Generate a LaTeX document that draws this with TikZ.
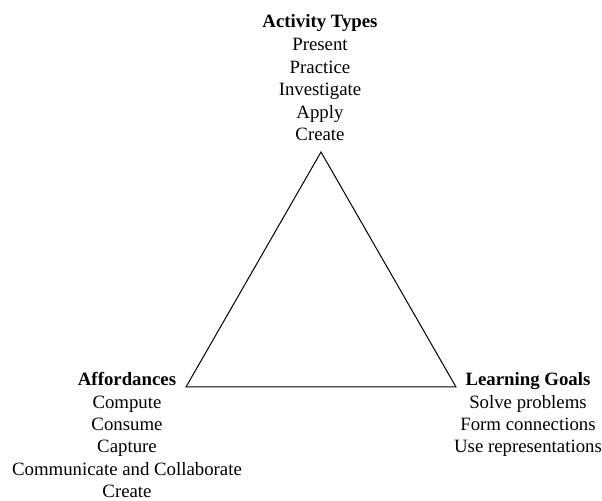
\documentclass[tikz,border=0pt]{standalone}
\usepackage{fontspec}
\setmainfont{Liberation Serif}
\usetikzlibrary{positioning}

\begin{document}
\begin{tikzpicture}[x=0.5pt, y=-0.5pt,
    every node/.style={font=\fontsize{9.4}{11.3}\selectfont, inner sep=0pt, anchor=base},
    head/.style={font=\fontsize{9.4}{11.3}\selectfont\bfseries}]
  \useasboundingbox (0,0) rectangle (602,501);

  % corners of the triangle
  \coordinate (top)   at (321,152);
  \coordinate (left)  at (186,387);
  \coordinate (right) at (456,387);
  \draw[line width=0.5pt] (top) -- (left) -- (right) -- cycle;

  % Activity Types
  \node[head] (act) at (320,28) {Activity Types};
  \foreach \txt [count=\i] in {Present, Practice, Investigate, Apply, Create}
    \node (act\i) at (320,{28+22.6*\i}) {\txt};

  % Affordances
  \node[head] (aff) at (127,386) {Affordances};
  \foreach \txt [count=\i] in {Compute, Consume, Capture,
      Communicate and Collaborate, Create}
    \node (aff\i) at (127,{386+22.3*\i}) {\txt};

  % Learning Goals
  \node[head] (goal) at (528,386) {Learning Goals};
  \foreach \txt [count=\i] in {Solve problems, Form connections,
      Use representations}
    \node (goal\i) at (528,{386+22.3*\i}) {\txt};
\end{tikzpicture}
\end{document}
